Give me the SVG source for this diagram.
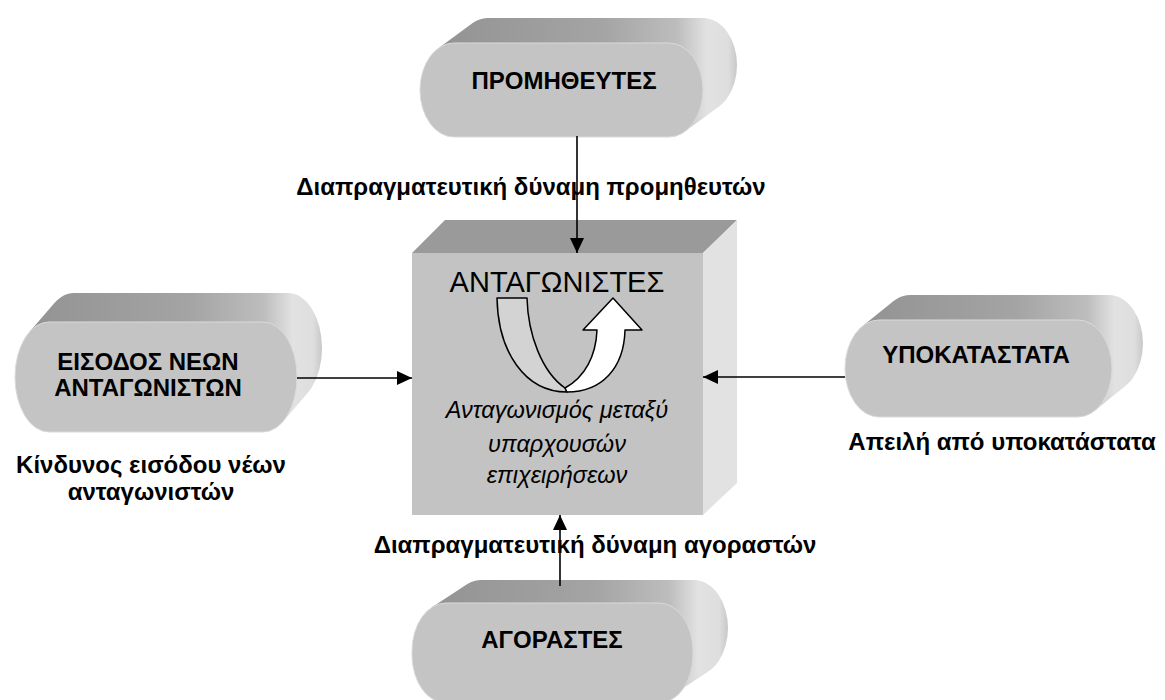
<svg xmlns="http://www.w3.org/2000/svg" width="1165" height="700" viewBox="0 0 1165 700">
  <defs>
    <linearGradient id="ext" x1="0" y1="0" x2="1" y2="0">
      <stop offset="0" stop-color="#939393"/>
      <stop offset="0.55" stop-color="#a4a4a4"/>
      <stop offset="0.8" stop-color="#bdbdbd"/>
      <stop offset="0.9" stop-color="#e2e2e2"/>
      <stop offset="0.97" stop-color="#dedede"/>
      <stop offset="1" stop-color="#c8c8c8"/>
    </linearGradient>
    <marker id="ah" markerUnits="userSpaceOnUse" markerWidth="16" markerHeight="14" refX="15" refY="7" orient="auto">
      <path d="M0,0 L15,7 L0,14 Z" fill="#000"/>
    </marker>
    <style>
      .ext { fill: url(#ext); }
      .front { fill: #c4c4c4; stroke: #dadada; stroke-width: 1; }
      .nt { font-family: "Liberation Sans", Arial, sans-serif; font-weight: bold; font-size: 24px; fill: #000; text-anchor: middle; }
      .lbl { font-family: "Liberation Sans", Arial, sans-serif; font-weight: bold; font-size: 24px; fill: #000; text-anchor: middle; }
      .it { font-family: "Liberation Sans", Arial, sans-serif; font-style: italic; font-size: 23.5px; fill: #000; text-anchor: middle; }
      .con { stroke: #000; stroke-width: 1.6; fill: none; marker-end: url(#ah); }
    </style>
  </defs>
  <rect width="1165" height="700" fill="#fff"/>

  <!-- Top node -->
  <g id="suppliers">
    <path class="ext" d="M488,18 L703,18 A34,47 0 0 1 703,112 L488,112 A34,47 0 0 1 488,18 Z M438,48.5 L472,23.5 L719,106.5 L685,131.5 Z"/>
    <rect class="front" x="420" y="43" width="283" height="94" rx="34" ry="47"/>
    <text class="nt" x="564" y="89">ΠΡΟΜΗΘΕΥΤΕΣ</text>
  </g>

  <!-- Left node -->
  <g id="new-entrants">
    <path class="ext" d="M74,293 L288,293 A34,55 0 0 1 288,403 L74,403 A34,55 0 0 1 74,293 Z M29.2,332.3 L54.2,303.3 L307.8,392.7 L282.8,421.7 Z"/>
    <rect class="front" x="15" y="322" width="282" height="110" rx="34" ry="55"/>
    <text class="nt" x="148" y="370">ΕΙΣΟΔΟΣ ΝΕΩΝ</text>
    <text class="nt" x="148" y="396">ΑΝΤΑΓΩΝΙΣΤΩΝ</text>
  </g>

  <!-- Right node -->
  <g id="substitutes">
    <path class="ext" d="M910,295 L1109,295 A34,48.5 0 0 1 1109,392 L910,392 A34,48.5 0 0 1 910,295 Z M862.3,326.3 L893.3,301.3 L1125.7,385.7 L1094.7,410.7 Z"/>
    <rect class="front" x="845" y="320" width="267" height="97" rx="34" ry="48.5"/>
    <text class="nt" x="976" y="363">ΥΠΟΚΑΤΑΣΤΑΤΑ</text>
  </g>

  <!-- Bottom node -->
  <g id="buyers">
    <path class="ext" d="M481,580 L694,580 A34,48 0 0 1 694,676 L481,676 A34,48 0 0 1 481,580 Z M431.6,607.5 L466.6,584.5 L708.4,671.5 L673.4,694.5 Z"/>
    <rect class="front" x="412" y="603" width="281" height="100" rx="34" ry="48"/>
    <text class="nt" x="552" y="648">ΑΓΟΡΑΣΤΕΣ</text>
  </g>

  <!-- Center cube -->
  <g id="competitors">
    <polygon points="412,253 445,220 737,220 703,253" fill="#9a9a9a"/>
    <polygon points="703,253 737,220 737,483 703,515" fill="#e2e2e2"/>
    <rect x="412" y="253" width="291" height="262" fill="#c3c3c3"/>
    <text x="557" y="292" font-family="Liberation Sans, Arial, sans-serif" font-size="29" text-anchor="middle" fill="#000">ΑΝΤΑΓΩΝΙΣΤΕΣ</text>
    <path d="M497,298 L527,298 C528,335 542,372 565,388 L567,392 C525,392 498,352 497,298 Z" fill="#d3d3d3" stroke="#000" stroke-width="1.5" stroke-linejoin="round"/>
    <path d="M565,388 C585,377 596,356 597,330 L583,330 L613,298 L642,330 L625,330 C624,368 602,392 567,392 Z" fill="#fff" stroke="#000" stroke-width="1.5" stroke-linejoin="round"/>
    <text class="it" x="557" y="418">Ανταγωνισμός μεταξύ</text>
    <text class="it" x="557" y="452">υπαρχουσών</text>
    <text class="it" x="557" y="483">επιχειρήσεων</text>
  </g>

  <!-- Labels -->
  <g id="labels">
    <text class="lbl" x="531" y="195">Διαπραγματευτική δύναμη προμηθευτών</text>
    <text class="lbl" x="151" y="473">Κίνδυνος εισόδου νέων</text>
    <text class="lbl" x="151" y="500">ανταγωνιστών</text>
    <text class="lbl" x="1002" y="450">Απειλή από υποκατάστατα</text>
    <text class="lbl" x="595" y="553">Διαπραγματευτική δύναμη αγοραστών</text>
  </g>

  <!-- Connectors -->
  <g id="connectors">
    <line class="con" x1="577" y1="136" x2="577" y2="253"/>
    <line class="con" x1="297" y1="378" x2="412" y2="378"/>
    <line class="con" x1="845" y1="377" x2="703" y2="377"/>
    <line class="con" x1="560" y1="586" x2="560" y2="515"/>
  </g>
</svg>
